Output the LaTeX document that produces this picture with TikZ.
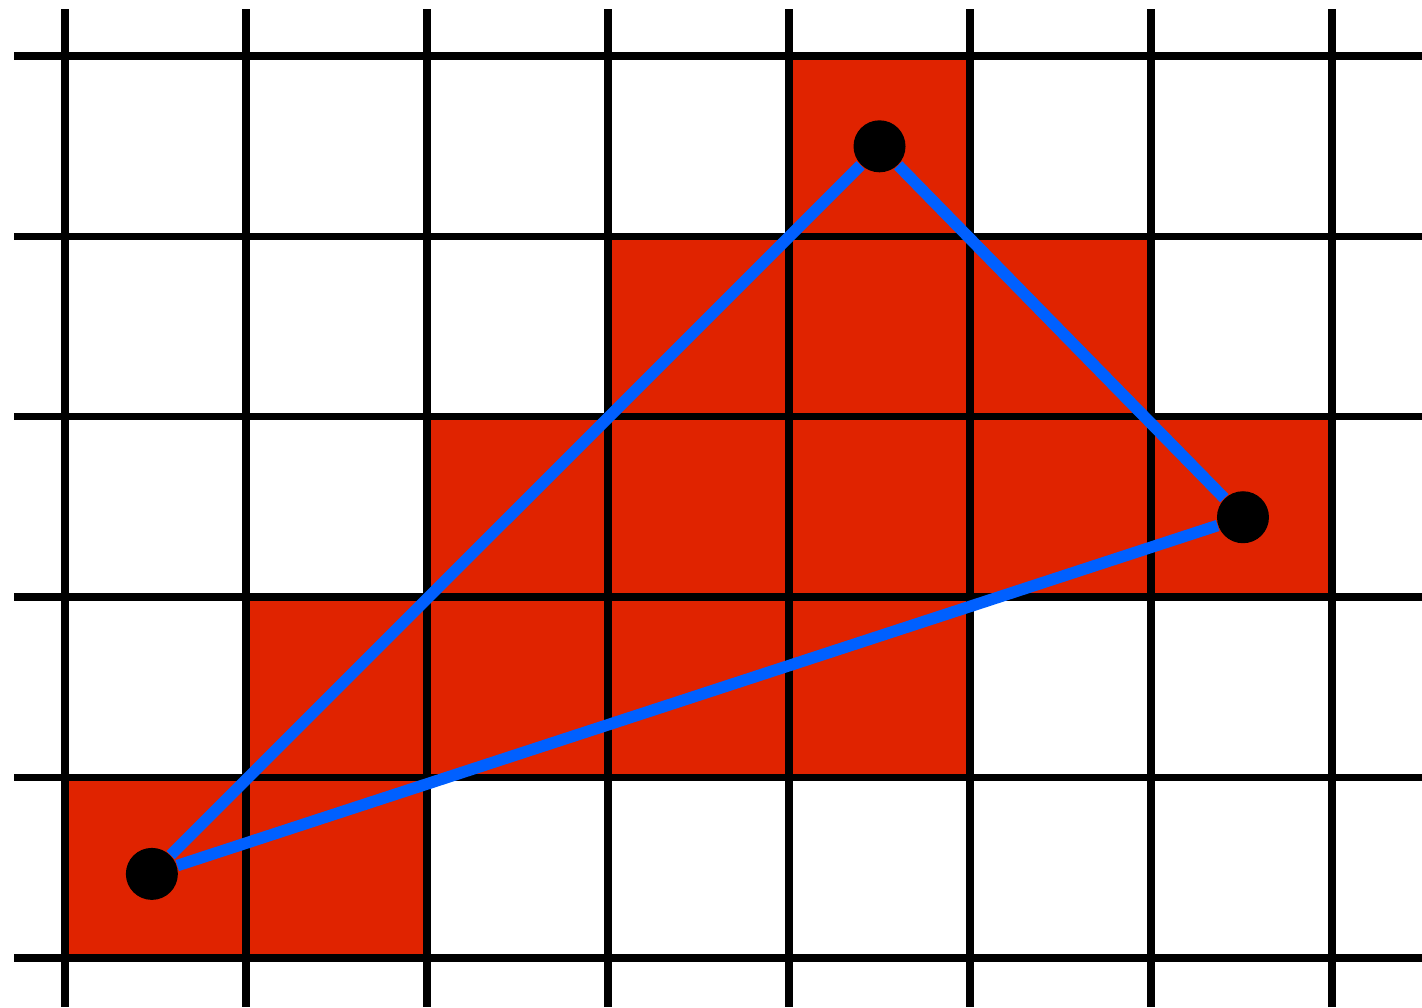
\documentclass[tikz,border=0pt]{standalone}
\definecolor{pixred}{RGB}{224,35,0}
\definecolor{edgeblue}{RGB}{0,96,255}
\begin{document}
\begin{tikzpicture}[x=1.81cm, y=1.804cm,
    gridline/.style={line width=2.1pt, black},
    vertex/.style={circle, fill=black, inner sep=0pt, minimum size=0.52cm},
    edge/.style={line width=3.3pt, edgeblue}]
    \useasboundingbox (-0.359,-0.272) rectangle (7.497,5.310);

    % Pixel coperti dal triangolo
    \fill[pixred] (4,4) rectangle (5,5);
    \fill[pixred] (3,3) rectangle (6,4);
    \fill[pixred] (2,2) rectangle (7,3);
    \fill[pixred] (1,1) rectangle (5,2);
    \fill[pixred] (0,0) rectangle (2,1);

    % Griglia
    \foreach \x in {0,...,7}
        \draw[gridline] (\x,-0.27) -- (\x,5.26);
    \foreach \y in {0,...,5}
        \draw[gridline] (-0.28,\y) -- (7.5,\y);

    % Vertici
    \node[vertex] (va) at (0.48,0.466) {};
    \node[vertex] (vb) at (4.50,4.499) {};
    \node[vertex] (vc) at (6.508,2.443) {};

    % Lati
    \draw[edge] (va) -- (vb);
    \draw[edge] (vb) -- (vc);
    \draw[edge] (vc) -- (va);
\end{tikzpicture}
\end{document}
